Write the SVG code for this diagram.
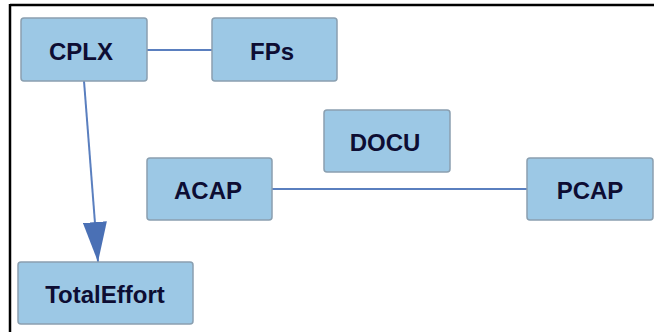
<svg xmlns="http://www.w3.org/2000/svg" width="654" height="332" viewBox="0 0 654 332">
<style>
.node rect{fill:#9cc8e5;stroke:#8a9fb0;stroke-width:1.5}
.node text{font-family:"Liberation Sans",Arial,sans-serif;font-weight:bold;font-size:24px;fill:#0d0d33;text-anchor:middle}
.conn line{stroke:#5a7fbf;stroke-width:2}
</style>
<defs>
<marker id="arr" markerUnits="userSpaceOnUse" markerWidth="40" markerHeight="24" refX="40" refY="12" orient="auto" viewBox="0 0 40 24">
<path d="M0,0 L40,12 L0,24 Z" fill="#4a70b5"/>
</marker>
</defs>
<rect x="0" y="0" width="654" height="332" fill="#ffffff"/>
<line x1="10" y1="5" x2="654" y2="5" stroke="#000" stroke-width="2.5"/>
<line x1="10" y1="4" x2="10" y2="332" stroke="#000" stroke-width="2.5"/>
<g id="connectors" class="conn">
<line x1="147" y1="50" x2="212" y2="50"/>
<line x1="272" y1="189" x2="527" y2="189"/>
<line x1="84" y1="81" x2="98" y2="262" marker-end="url(#arr)"/>
</g>
<g id="CPLX" class="node"><rect x="21" y="18" width="126" height="63" rx="3"/><text x="81" y="59.5">CPLX</text></g>
<g id="FPs" class="node"><rect x="212" y="18" width="125" height="63" rx="3"/><text x="272" y="59.5">FPs</text></g>
<g id="DOCU" class="node"><rect x="324" y="110" width="126" height="62" rx="3"/><text x="385" y="151">DOCU</text></g>
<g id="ACAP" class="node"><rect x="147" y="158" width="125" height="62" rx="3"/><text x="208" y="199">ACAP</text></g>
<g id="PCAP" class="node"><rect x="527" y="158" width="126" height="62" rx="3"/><text x="590" y="199">PCAP</text></g>
<g id="TotalEffort" class="node"><rect x="18" y="262" width="175" height="62" rx="3"/><text x="105" y="303">TotalEffort</text></g>
</svg>
